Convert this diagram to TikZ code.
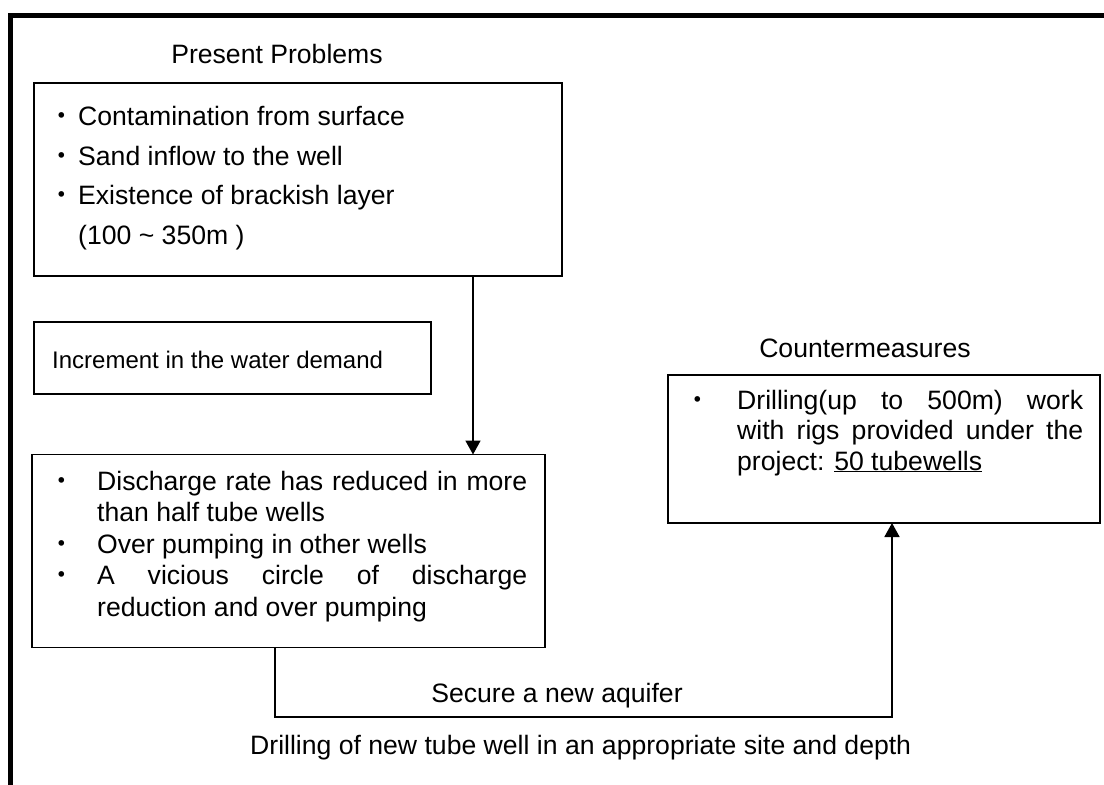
\documentclass[tikz,border=0pt]{standalone}
\usepackage{fontspec}
\setmainfont{Liberation Sans}
\newfontfamily\jpfont{Noto Sans CJK JP}
\usetikzlibrary{arrows.meta}
\tikzset{
  box/.style={draw, line width=1.8pt, rectangle, inner sep=0pt, outer sep=0pt},
  txt/.style={anchor=base west, inner sep=0pt, font=\fontsize{26.6}{32}\selectfont},
  smalltxt/.style={anchor=base west, inner sep=0pt, font=\fontsize{24}{29}\selectfont},
  ctr/.style={anchor=base, inner sep=0pt, font=\fontsize{26.6}{32}\selectfont},
  bul/.style={anchor=base, inner sep=0pt, font=\jpfont\fontsize{26.6}{32}\selectfont},
  link/.style={line width=1.8pt, -{Triangle[width=15pt,length=14pt]}},
}
\begin{document}
\begin{tikzpicture}[x=1pt, y=-1pt]
\useasboundingbox (0,0) rectangle (1104,785);
\fill[white] (0,0) rectangle (1104,785);

% frame: top and left rules only
\draw[line width=4.4pt] (10.5,785) -- (10.5,15.3) -- (1104,15.3);

% boxes
\node[box, minimum width=528pt, minimum height=193pt] (prob) at (298,179.5) {};
\node[box, minimum width=397pt, minimum height=72pt] (demand) at (232.5,358) {};
\node[box, minimum width=513pt, minimum height=193pt] (effect) at (288.5,551) {};
\node[box, minimum width=432pt, minimum height=148pt] (counter) at (884,449) {};

% headings
\node[ctr] (probtitle) at (277,63) {Present Problems};
\node[ctr] (countertitle) at (865,357) {Countermeasures};

% present problems
\node[bul] (b1) at (62,125) {・};
\node[txt] (p1) at (78,125) {Contamination from surface};
\node[bul] (b2) at (62,165) {・};
\node[txt] (p2) at (78,165) {Sand inflow to the well};
\node[bul] (b3) at (62,204) {・};
\node[txt] (p3) at (78,204) {Existence of brackish layer};
\node[txt] (p4) at (78,244) {(100 \textasciitilde{} 350m )};

% water demand
\node[smalltxt] (d1) at (52,368) {Increment in the water demand};

% consequences
\node[bul] (e1b) at (62,490) {・};
\node[txt] (e1) at (97,490) {\makebox[430pt][s]{Discharge rate has reduced in more}};
\node[txt] (e2) at (97,521.5) {than half tube wells};
\node[bul] (e3b) at (62,553) {・};
\node[txt] (e3) at (97,553) {Over pumping in other wells};
\node[bul] (e4b) at (62,584.5) {・};
\node[txt] (e4) at (97,584.5) {\makebox[430pt][s]{A vicious circle of discharge}};
\node[txt] (e5) at (97,616) {reduction and over pumping};

% countermeasures
\node[bul] (c1b) at (698,409) {・};
\node[txt] (c1) at (737,409) {\makebox[346pt][s]{Drilling(up to 500m) work}};
\node[txt] (c2) at (737,439.5) {\makebox[346pt][s]{with rigs provided under the}};
\node[txt] (c3) at (737,470) {project: \underline{50 tubewells}};

% connector labels
\node[ctr] (aquifer) at (557,702) {Secure a new aquifer};
\node[txt] (drill) at (250,754) {Drilling of new tube well in an appropriate site and depth};

% connectors
\coordinate (ax) at (473,0);
\coordinate (bx) at (275,0);
\coordinate (dx) at (892,0);
\coordinate (low) at (0,717);
\draw[link] (prob.south -| ax) -- (effect.north -| ax);
\draw[link] (effect.south -| bx) -- (bx |- low) -- (dx |- low) -- (counter.south -| dx);
\end{tikzpicture}
\end{document}
